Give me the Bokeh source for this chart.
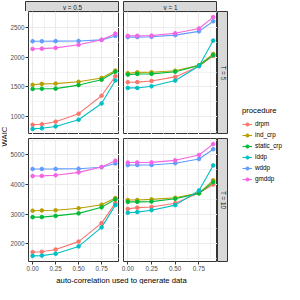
import math
from bokeh.plotting import figure
from bokeh.layouts import row, column
from bokeh.models import (Range1d, FixedTicker, LinearAxis, Grid, Label, Legend,
                          LegendItem, ColumnDataSource, NumeralTickFormatter,
                          BasicTickFormatter, Spacer)
from bokeh.embed import file_html
from bokeh.resources import INLINE

# ---------------- data ----------------
X = [0.0, 0.1, 0.25, 0.5, 0.75, 0.9]
PROCEDURES = ["drpm", "ind_crp", "static_crp", "lddp", "wddp", "gmddp"]
COLORS = ["#F8766D", "#B79F00", "#00BA38", "#00BFC4", "#619CFF", "#F564E3"]
V_LABELS = ["v = 0.5", "v = 1"]
T_LABELS = ["T = 5", "T = 10"]
X_TITLE = "auto-correlation used to generate data"
Y_TITLE = "WAIC"
LEGEND_TITLE = "procedure"
X_TICKS = [0, 0.25, 0.5, 0.75]
X_MINOR = [0.125, 0.375, 0.625, 0.875]
Y_TICKS_T5 = [1000, 1500, 2000, 2500]
Y_MINOR_T5 = [750, 1250, 1750, 2250, 2750]
Y_TICKS_T10 = [2000, 3000, 4000, 5000]
Y_MINOR_T10 = [1500, 2500, 3500, 4500, 5500]

T5_V05 = {
    "drpm":       [860, 868, 912, 1047, 1350, 1680],
    "ind_crp":    [1535, 1550, 1555, 1585, 1650, 1775],
    "static_crp": [1465, 1468, 1470, 1530, 1620, 1755],
    "lddp":       [790, 800, 832, 945, 1220, 1608],
    "wddp":       [2270, 2270, 2272, 2275, 2293, 2360],
    "gmddp":      [2140, 2145, 2158, 2210, 2295, 2398],
}
T5_V1 = {
    "drpm":       [1578, 1580, 1600, 1668, 1850, 2024],
    "ind_crp":    [1730, 1745, 1746, 1772, 1865, 2056],
    "static_crp": [1707, 1718, 1720, 1756, 1860, 2035],
    "lddp":       [1482, 1482, 1510, 1606, 1852, 2281],
    "wddp":       [2340, 2340, 2345, 2373, 2437, 2608],
    "gmddp":      [2360, 2362, 2365, 2405, 2485, 2678],
}
T10_V05 = {
    "drpm":       [1710, 1722, 1797, 2065, 2690, 3367],
    "ind_crp":    [3110, 3120, 3125, 3194, 3313, 3539],
    "static_crp": [2894, 2896, 2936, 3022, 3226, 3496],
    "lddp":       [1581, 1592, 1656, 1903, 2548, 3302],
    "wddp":       [4525, 4525, 4527, 4535, 4585, 4710],
    "gmddp":      [4285, 4290, 4313, 4410, 4593, 4806],
}
T10_V1 = {
    "drpm":       [3173, 3216, 3237, 3367, 3710, 4000],
    "ind_crp":    [3474, 3476, 3496, 3550, 3710, 4142],
    "static_crp": [3410, 3412, 3420, 3516, 3700, 4077],
    "lddp":       [3044, 3065, 3130, 3302, 3797, 4646],
    "wddp":       [4657, 4658, 4660, 4721, 4861, 5194],
    "gmddp":      [4742, 4745, 4748, 4818, 5000, 5368],
}

# ---------------- style / geometry ----------------
FONT = "Liberation Sans"
LW, AXW, PW, GAP, SW = 7, 18, 94, 4, 11
STRIP_H, PH, VGAP, AXH, TITLE_H, LEGW = 11, 123, 4, 12, 11, 56
BORDER = "#333333"
STRIP_FILL = "#D9D9D9"
GRID_C = "#EBEBEB"
TICK_TXT = "#4D4D4D"


def expand(lo, hi, frac=0.05):
    d = hi - lo
    return Range1d(lo - frac * d, hi + frac * d)


def row_range(*panels):
    vals = [v for pnl in panels for arr in pnl.values() for v in arr]
    return expand(min(vals), max(vals))


def base_fig(w, h, xr, yr, **kw):
    p = figure(width=w, height=h, x_range=xr, y_range=yr, toolbar_location=None,
               output_backend="svg", x_axis_location=None, y_axis_location=None,
               min_border=0, **kw)
    p.grid.visible = False
    p.outline_line_color = BORDER
    p.outline_line_width = 1
    p.background_fill_color = "white"
    p.border_fill_color = "white"
    return p


def add_grids(p, xt, xm, yt, ym):
    for dim, t, m in ((0, xt, xm), (1, yt, ym)):
        g = Grid(dimension=dim, ticker=FixedTicker(ticks=t, minor_ticks=m),
                 grid_line_color=GRID_C, grid_line_width=1,
                 minor_grid_line_color=GRID_C, minor_grid_line_width=0.6)
        p.add_layout(g, "center")


def style_axis(ax):
    ax.axis_line_color = None
    ax.major_tick_line_color = BORDER
    ax.major_tick_out = 3
    ax.major_tick_in = 0
    ax.minor_tick_out = 0
    ax.minor_tick_in = 0
    ax.major_label_standoff = 1
    ax.major_label_text_font = FONT
    ax.major_label_text_font_size = "6.3px"
    ax.major_label_text_color = TICK_TXT


def panel(data, xr, yr, yt, ym, left_axis, bottom_axis, first_col):
    w = (AXW if first_col else GAP) + PW
    h = PH + (AXH if bottom_axis else 0)
    p = base_fig(w, h, xr, yr,
                 min_border_left=(AXW if first_col else GAP),
                 min_border_bottom=(AXH if bottom_axis else 0))
    add_grids(p, X_TICKS, X_MINOR, yt, ym)
    if left_axis:
        ax = LinearAxis(ticker=FixedTicker(ticks=yt), formatter=BasicTickFormatter())
        style_axis(ax)
        p.add_layout(ax, "left")
    if bottom_axis:
        ax = LinearAxis(ticker=FixedTicker(ticks=X_TICKS),
                        formatter=NumeralTickFormatter(format="0.00"))
        style_axis(ax)
        p.add_layout(ax, "below")
    for proc, c in zip(PROCEDURES, COLORS):
        p.line(X, data[proc], line_color=c, line_width=1.1)
    for proc, c in zip(PROCEDURES, COLORS):
        p.scatter(X, data[proc], marker="circle", size=3.6, fill_color=c, line_color=c)
    return p


def text_fig(w, h, text, size, color, angle=0.0, fill=None, outline=None, **kw):
    p = base_fig(w, h, Range1d(0, 1), Range1d(0, 1), **kw)
    p.outline_line_color = outline
    if fill is not None:
        p.background_fill_color = fill
    p.add_layout(Label(x=0.5, y=0.5, text=text, angle=angle, text_align="center",
                       text_baseline="middle", text_font=FONT, text_font_size=size,
                       text_color=color))
    return p


xr = expand(min(X), max(X))
yr_top = row_range(T5_V05, T5_V1)
yr_bot = row_range(T10_V05, T10_V1)

tl = panel(T5_V05, xr, yr_top, Y_TICKS_T5, Y_MINOR_T5, True, False, True)
tr = panel(T5_V1, xr, yr_top, Y_TICKS_T5, Y_MINOR_T5, False, False, False)
bl = panel(T10_V05, xr, yr_bot, Y_TICKS_T10, Y_MINOR_T10, True, True, True)
br = panel(T10_V1, xr, yr_bot, Y_TICKS_T10, Y_MINOR_T10, False, True, False)

strip_v0 = text_fig(PW, STRIP_H, V_LABELS[0], "6.3px", "#1A1A1A", fill=STRIP_FILL, outline=BORDER)
strip_v1 = text_fig(PW, STRIP_H, V_LABELS[1], "6.3px", "#1A1A1A", fill=STRIP_FILL, outline=BORDER)
strip_t0 = text_fig(SW, PH, T_LABELS[0], "6.3px", "#1A1A1A", angle=-math.pi / 2,
                    fill=STRIP_FILL, outline=BORDER)
strip_t1 = text_fig(SW, PH + AXH, T_LABELS[1], "6.3px", "#1A1A1A", angle=-math.pi / 2,
                    fill=STRIP_FILL, outline=BORDER, min_border_bottom=AXH)

waic = text_fig(LW, 2 * PH + VGAP, Y_TITLE, "7.7px", "black", angle=math.pi / 2)
xtitle = text_fig(2 * PW + GAP, TITLE_H, X_TITLE, "7.7px", "black")

# legend figure (proxy renderers hold no visible points)
leg = base_fig(LEGW, 284, Range1d(0, 1), Range1d(0, 1))
leg.outline_line_color = None
items = []
for proc, c in zip(PROCEDURES, COLORS):
    src = ColumnDataSource(data=dict(x=[float("nan")], y=[float("nan")]))
    lr = leg.line("x", "y", source=src, line_color=c, line_width=1.1)
    sr = leg.scatter("x", "y", source=src, marker="circle", size=3.6, fill_color=c, line_color=c)
    items.append(LegendItem(label=proc, renderers=[lr, sr]))
legend = Legend(items=items, location=(14, 100), title=LEGEND_TITLE,
                title_text_font=FONT, title_text_font_size="7.7px", title_text_font_style="normal",
                title_text_color="black", title_standoff=3,
                label_text_font=FONT, label_text_font_size="6.3px", label_text_color="black",
                label_standoff=3, glyph_width=10, glyph_height=8, label_height=11,
                spacing=0, padding=3, margin=0, border_line_color=None,
                background_fill_alpha=0)
leg.add_layout(legend, "center")

left_col = column(Spacer(width=LW, height=STRIP_H), waic, Spacer(width=LW, height=AXH + TITLE_H))
center = column(
    row(Spacer(width=AXW, height=STRIP_H), strip_v0, Spacer(width=GAP, height=STRIP_H),
        strip_v1, Spacer(width=SW, height=STRIP_H)),
    row(tl, tr, strip_t0),
    Spacer(width=AXW + 2 * PW + GAP + SW, height=VGAP),
    row(bl, br, strip_t1),
    row(Spacer(width=AXW, height=TITLE_H), xtitle),
)
layout = row(left_col, center, leg)

open("out.html", "w").write(file_html(layout, INLINE))
